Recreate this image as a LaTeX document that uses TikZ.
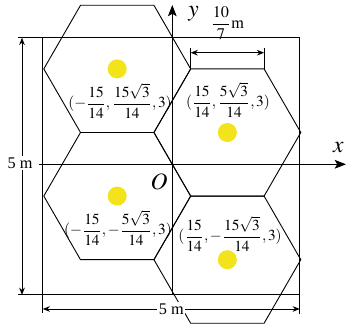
\documentclass[tikz,border=0pt]{standalone}
\usepackage{amsmath}
\usepackage{mathptmx}
\usepackage{fontspec}
\setmainfont{Liberation Serif}
\usetikzlibrary{arrows.meta,calc}
\definecolor{lampyellow}{HTML}{F2E31B}
\tikzset{
  hexline/.style ={draw=black, line width=0.5pt},
  frame/.style   ={draw=black, line width=0.5pt},
  axis/.style    ={-{Stealth[length=2.2mm, width=1.7mm, inset=0.5mm]}, line width=0.5pt},
  dimline/.style ={{Stealth[length=1.4mm, width=1.1mm]}-{Stealth[length=1.4mm, width=1.1mm]},
                   line width=0.45pt},
  lamp/.style    ={circle, fill=lampyellow, minimum size=3.7mm, inner sep=0pt},
  coord/.style   ={font=\fontsize{8.5}{10}\selectfont, inner sep=0pt},
  dimlabel/.style={fill=white, font=\fontsize{9}{11}\selectfont, inner sep=1pt},
  axlabel/.style ={font=\fontsize{13}{15}\selectfont, inner sep=0pt},
}
\newcommand{\hexcell}[1]{%
  \draw[hexline, shift={(#1)}] (0:1.4286) -- (60:1.4286) -- (120:1.4286)
    -- (180:1.4286) -- (240:1.4286) -- (300:1.4286) -- cycle;%
}

\begin{document}
\begin{tikzpicture}
  \useasboundingbox (-3.352,-3.204) rectangle (3.418,3.196);

  % ---- the four hexagons ----------------------------------------------------
  \coordinate (hA) at (-1.0714,1.8558);
  \coordinate (hB) at (1.0714,0.6186);
  \coordinate (hC) at (-1.0714,-0.6186);
  \coordinate (hD) at (1.0714,-1.8558);
  \foreach \h in {hA,hB,hC,hD} { \hexcell{\h} }

  % ---- the square -----------------------------------------------------------
  \coordinate (sqTL) at (-2.52,2.46);
  \coordinate (sqTR) at (2.48,2.46);
  \coordinate (sqBR) at (2.48,-2.54);
  \coordinate (sqBL) at (-2.52,-2.54);
  \draw[frame] (sqTL) -- (sqTR) -- (sqBR) -- (sqBL) -- cycle;

  % extension lines
  \coordinate (exTL) at (-3.0,2.46);
  \coordinate (exBL) at (-3.0,-2.54);
  \coordinate (exLB) at (-2.52,-2.89);
  \coordinate (exRB) at (2.48,-2.91);
  \draw[frame] (sqTL) -- (exTL);
  \draw[frame] (sqBL) -- (exBL);
  \draw[frame] (sqBL) -- (exLB);
  \draw[frame] (sqBR) -- (exRB);

  % ---- dimensions -----------------------------------------------------------
  \coordinate (dimLT) at (-2.924,2.46);
  \coordinate (dimLB) at (-2.924,-2.54);
  \draw[dimline] (dimLT) -- (dimLB);
  \node[dimlabel] (wleft) at (-2.963,0.025) {5 m};

  \coordinate (dimBL) at (-2.52,-2.815);
  \coordinate (dimBR) at (2.48,-2.815);
  \draw[dimline] (dimBL) -- (dimBR);
  \node[dimlabel] (wbottom) at (-0.02,-2.815) {5 m};

  \coordinate (sideL) at (0.3571,1.8558);
  \coordinate (sideR) at (1.7857,1.8558);
  \coordinate (sideLt) at (0.3571,2.255);
  \coordinate (sideRt) at (1.7857,2.255);
  \draw[frame] (sideL) -- (sideLt);
  \draw[frame] (sideR) -- (sideRt);
  \coordinate (dimSL) at (0.3571,2.171);
  \coordinate (dimSR) at (1.7857,2.171);
  \draw[dimline] (dimSL) -- (dimSR);
  \node[dimlabel, fill=none] (side) at (1.07,2.74) {$\dfrac{10}{7}$m};

  % ---- axes -----------------------------------------------------------------
  \coordinate (xstart) at (-2.594,0);
  \coordinate (xend) at (3.379,0);
  \coordinate (ystart) at (0,-2.54);
  \coordinate (yend) at (0,3.099);
  \draw[axis] (xstart) -- (xend);
  \draw[axis] (ystart) -- (yend);
  \node[axlabel] (xlab) at (3.23,0.33) {$x$};
  \node[axlabel] (ylab) at (0.412,2.92) {$y$};
  \node[axlabel] (olab) at (-0.259,-0.335) {$O$};

  % ---- lamps ----------------------------------------------------------------
  \node[lamp] (lampA) at (hA) {};
  \node[lamp] (lampB) at (hB) {};
  \node[lamp] (lampC) at (hC) {};
  \node[lamp] (lampD) at (hD) {};

  \node[coord] (posA) at (-1.017,1.231) {$(-\dfrac{15}{14},\dfrac{15\sqrt{3}}{14},3)$};
  \node[coord] (posB) at (1.084,1.251) {$(\dfrac{15}{14},\dfrac{5\sqrt{3}}{14},3)$};
  \node[coord] (posC) at (-1.056,-1.239) {$(-\dfrac{15}{14},-\dfrac{5\sqrt{3}}{14},3)$};
  \node[coord] (posD) at (1.123,-1.356) {$(\dfrac{15}{14},-\dfrac{15\sqrt{3}}{14},3)$};
\end{tikzpicture}
\end{document}
